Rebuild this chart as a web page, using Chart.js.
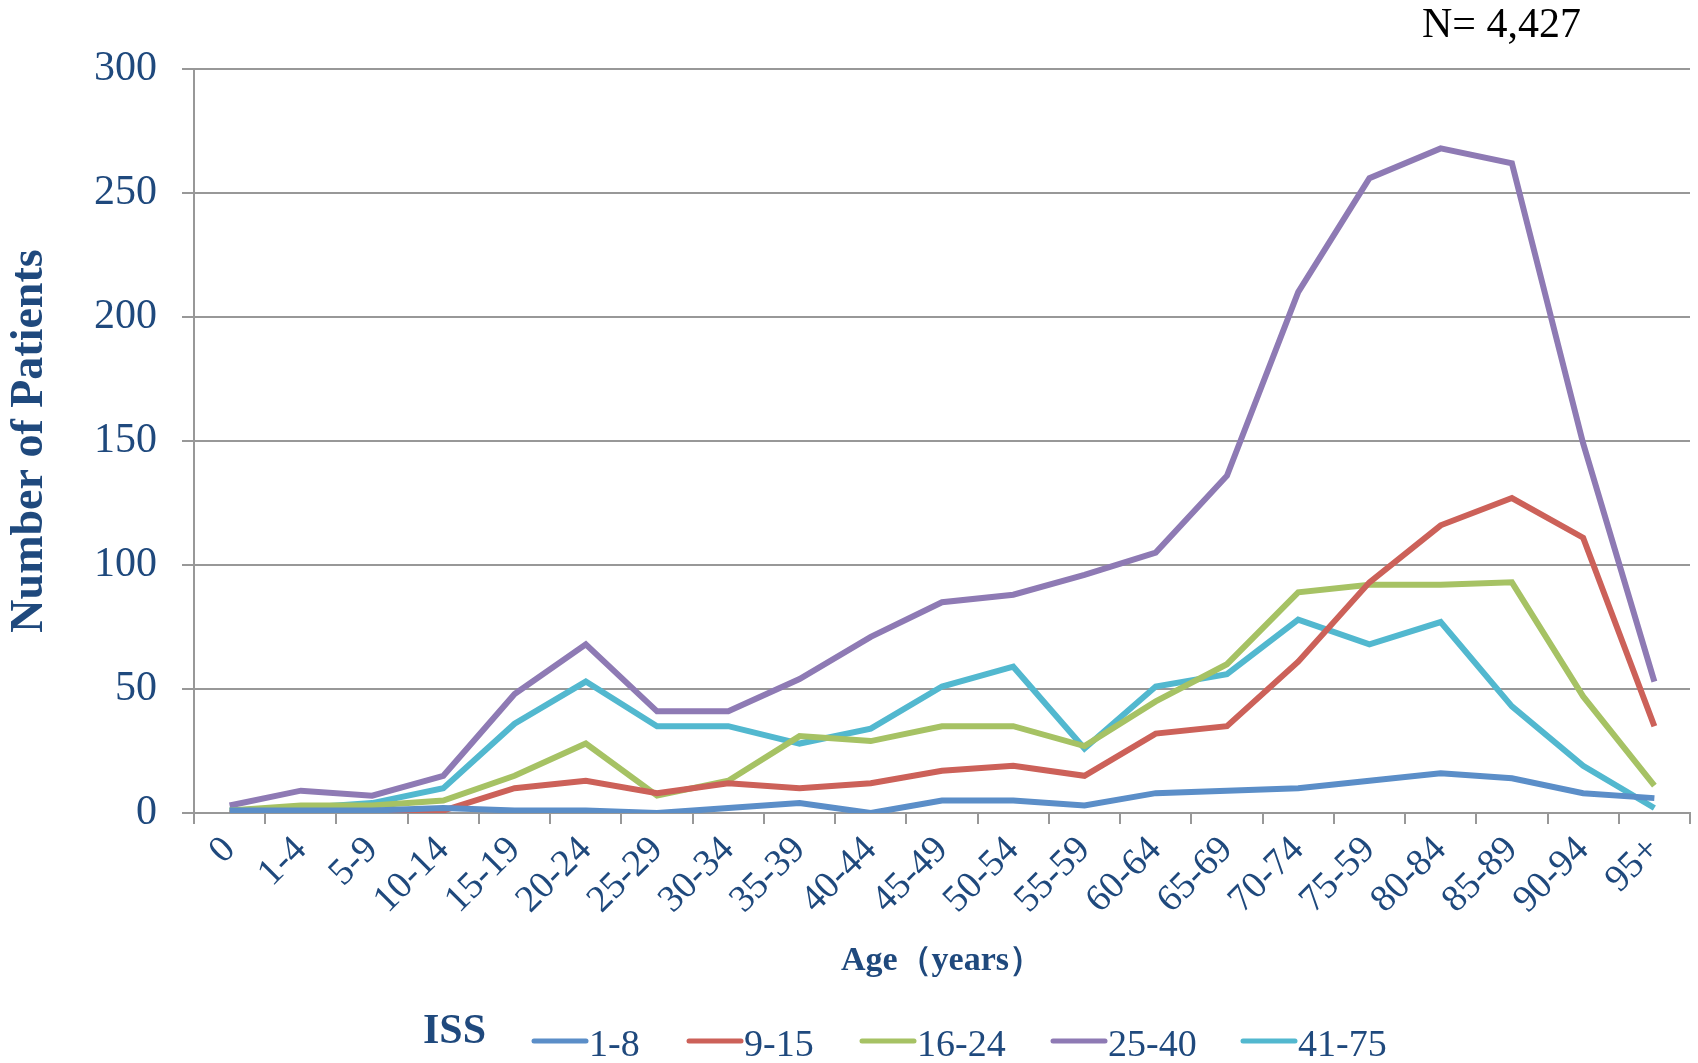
<!DOCTYPE html>
<html><head><meta charset="utf-8">
<script src="https://cdn.jsdelivr.net/npm/chart.js@4/dist/chart.umd.min.js"></script>
<style>html,body{margin:0;padding:0;background:#fff;}#wrap{width:1698px;height:1063px;}</style>
</head><body><div id="wrap"><canvas id="c" width="1698" height="1063"></canvas></div>
<script>
const ageGroups = ['0','1-4','5-9','10-14','15-19','20-24','25-29','30-34','35-39','40-44','45-49','50-54','55-59','60-64','65-69','70-74','75-59','80-84','85-89','90-94','95+'];
const yTicks = [0, 50, 100, 150, 200, 250, 300];
const seriesNames = ['1-8', '9-15', '16-24', '25-40', '41-75'];
const iss1to8   = [1, 1, 1, 2, 1, 1, 0, 2, 4, 0, 5, 5, 3, 8, 9, 10, 13, 16, 14, 8, 6];
const iss9to15  = [0, 0, 0, 1, 10, 13, 8, 12, 10, 12, 17, 19, 15, 32, 35, 61, 93, 116, 127, 111, 35];
const iss16to24 = [1, 3, 3, 5, 15, 28, 7, 13, 31, 29, 35, 35, 27, 45, 60, 89, 92, 92, 93, 47, 11];
const iss25to40 = [3, 9, 7, 15, 48, 68, 41, 41, 54, 71, 85, 88, 96, 105, 136, 210, 256, 268, 262, 149, 53];
const iss41to75 = [1, 2, 4, 10, 36, 53, 35, 35, 28, 34, 51, 59, 26, 51, 56, 78, 68, 77, 43, 19, 2];
const seriesColors = ['#5B8EC8', '#CC6159', '#A6C264', '#8E7AB4', '#52B8CF'];
const totalLabel = 'N= 4,427';
const xTitle = 'Age（years）';
const yTitle = 'Number of Patients';
const legendTitle = 'ISS';

const TEXT = '#1F497D';
const SERIF = '"Liberation Serif", "Times New Roman", serif';
const GRID = '#989898';

const allSeries = [iss1to8, iss9to15, iss16to24, iss25to40, iss41to75];

const overlayPlugin = {
  id: 'overlay',
  afterDraw(chart) {
    const ctx = chart.ctx;
    const ca = chart.chartArea;
    ctx.save();
    // N label
    ctx.fillStyle = '#000';
    ctx.font = '42px ' + SERIF;
    ctx.textAlign = 'right';
    ctx.textBaseline = 'middle';
    ctx.fillText(totalLabel, ca.right - 109, 26);
    // legend
    const ly = 1041;
    ctx.fillStyle = TEXT;
    ctx.font = 'bold 42px ' + SERIF;
    ctx.textAlign = 'left';
    ctx.fillText(legendTitle, 423, 1032);
    const starts = [531, 686, 859, 1050, 1240];
    chart.data.datasets.forEach((ds, i) => {
      const x = starts[i];
      ctx.strokeStyle = ds.borderColor;
      ctx.lineWidth = 5;
      ctx.lineCap = 'round';
      ctx.beginPath();
      ctx.moveTo(x + 3, ly);
      ctx.lineTo(x + 55, ly);
      ctx.stroke();
      ctx.fillStyle = TEXT;
      ctx.font = '38px ' + SERIF;
      ctx.textBaseline = 'middle';
      ctx.fillText(ds.label, x + 58, ly + 5);
    });
    ctx.restore();
  }
};

new Chart(document.getElementById('c'), {
  type: 'line',
  data: {
    labels: ageGroups,
    datasets: seriesNames.map((name, i) => ({
      label: name,
      data: allSeries[i],
      borderColor: seriesColors[i],
      backgroundColor: seriesColors[i],
      borderWidth: 6,
      pointRadius: 0,
      tension: 0,
      fill: false,
      borderJoinStyle: 'miter'
    }))
  },
  options: {
    responsive: false,
    animation: false,
    devicePixelRatio: 1,
    layout: { padding: { left: 0, top: 69, right: 8, bottom: 78 } },
    plugins: { legend: { display: false }, tooltip: { enabled: false } },
    scales: {
      x: {
        type: 'category',
        offset: true,
        afterFit(scale) { scale.height = 172; },
        grid: { display: true, drawOnChartArea: false, drawTicks: true, tickLength: 11, offset: true, color: GRID, lineWidth: 2 },
        border: { display: true, color: GRID, width: 2 },
        ticks: { color: TEXT, font: { family: SERIF, size: 38 }, minRotation: 45, maxRotation: 45, padding: 4, autoSkip: false },
        title: { display: true, text: xTitle, color: TEXT, font: { family: SERIF, size: 34, weight: 'bold' }, padding: { top: 0, bottom: 3 } }
      },
      y: {
        min: 0, max: 300,
        afterFit(scale) { scale.width = 194; },
        afterBuildTicks(scale) { scale.ticks = yTicks.map(v => ({ value: v })); },
        grid: { color: GRID, lineWidth: 2, drawTicks: true, tickLength: 12 },
        border: { display: true, color: GRID, width: 2 },
        ticks: { color: TEXT, font: { family: SERIF, size: 42 }, padding: 25 },
        title: { display: true, text: yTitle, color: TEXT, font: { family: SERIF, size: 46, weight: 'bold' }, padding: { top: 3, bottom: 0 } }
      }
    }
  },
  plugins: [overlayPlugin]
});
</script>
</body></html>
